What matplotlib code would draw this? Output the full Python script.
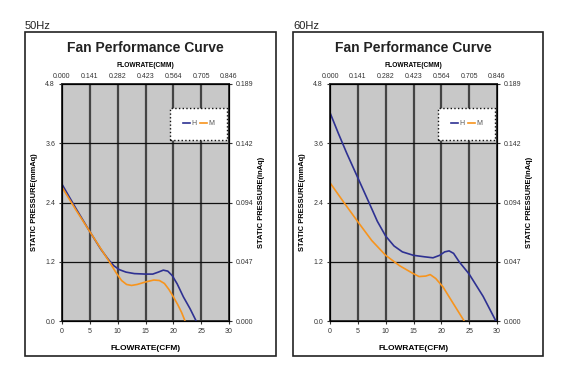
import matplotlib
matplotlib.use("Agg")
import matplotlib.pyplot as plt
from matplotlib.patches import Rectangle

plt.rcParams["font.family"] = ["Liberation Sans", "DejaVu Sans"]

W, H = 576, 367

# valeurs (CFM, mmAq)
h50_x = [0, 2.5, 5, 7, 8.3, 9.3, 10.3, 11.5, 13, 15, 16.3, 17.3, 18.2, 19, 19.8, 20.7, 21.8, 23, 24.1]
h50_y = [2.77, 2.28, 1.81, 1.45, 1.25, 1.12, 1.04, 0.99, 0.96, 0.95, 0.95, 0.99, 1.03, 1.01, 0.92, 0.75, 0.49, 0.25, 0.0]
m50_x = [0, 2.5, 5, 7, 8.5, 9.7, 10.7, 11.6, 12.5, 13.5, 15, 16.5, 17.5, 18.4, 19.2, 20, 20.8, 21.5, 22.1]
m50_y = [2.71, 2.25, 1.81, 1.46, 1.20, 0.98, 0.82, 0.74, 0.72, 0.74, 0.79, 0.83, 0.82, 0.76, 0.64, 0.49, 0.33, 0.17, 0.0]

h60_x = [0, 1.5, 3, 5, 7, 8.5, 10, 11.5, 13, 15, 17, 18.5, 19.7, 20.6, 21.4, 22.2, 23.2, 25, 27.5, 29.8]
h60_y = [4.22, 3.80, 3.40, 2.90, 2.40, 2.02, 1.72, 1.52, 1.40, 1.33, 1.30, 1.28, 1.33, 1.40, 1.42, 1.37, 1.20, 0.95, 0.50, 0.0]
m60_x = [0, 2.5, 5, 7.5, 10, 12.5, 14.8, 16, 17.2, 18, 19, 20.3, 22, 24.1]
m60_y = [2.80, 2.40, 2.01, 1.63, 1.33, 1.12, 0.97, 0.90, 0.91, 0.94, 0.86, 0.69, 0.38, 0.0]

cfm_ticks = [0, 5, 10, 15, 20, 25, 30]
cmm_labels = ["0.000", "0.141", "0.282", "0.423", "0.564", "0.705", "0.846"]
mm_ticks = [0.0, 1.2, 2.4, 3.6, 4.8]
in_labels = ["0.000", "0.047", "0.094", "0.142", "0.189"]

C_H = "#2e3192"
C_M = "#f7941d"
TICK_FS = 5


def fx(px):
    return px / W


def fy(py):
    return 1 - py / H


def draw_panel(fig, box_x0, box_x1, ax_x0, hz, hx, hy, mx, my):
    fig.add_artist(Rectangle((fx(box_x0), fy(356)), fx(box_x1 - box_x0), (356 - 32) / H,
                             transform=fig.transFigure, fill=False, lw=1.2, ec="#222222"))
    fig.text(fx(box_x0), fy(29), hz, fontsize=8, color="#222222")

    ax = fig.add_axes([fx(ax_x0), fy(321), fx(167), 237 / H])
    ax.set_facecolor("#c8c8c8")
    ax.set_xlim(0, 30)
    ax.set_ylim(0, 4.8)

    for x in cfm_ticks[1:-1]:
        ax.axvline(x, color="#444444", lw=1.6, zorder=1)
    for y in mm_ticks[1:-1]:
        ax.axhline(y, color="#111111", lw=0.9, zorder=1)

    ax.plot(hx, hy, color=C_H, lw=1.2, label="H", zorder=3)
    ax.plot(mx, my, color=C_M, lw=1.2, label="M", zorder=3)

    for s in ax.spines.values():
        s.set_color("#333333")
        s.set_linewidth(1.4)

    ax.set_xticks(cfm_ticks)
    ax.set_yticks(mm_ticks)
    ax.set_yticklabels([f"{v:.1f}" for v in mm_ticks])
    ax.tick_params(labelsize=TICK_FS, length=2, width=0.8, colors="#333333", pad=3)

    ax2 = ax.twinx()
    ax2.set_ylim(0, 4.8)
    ax2.set_yticks(mm_ticks)
    ax2.set_yticklabels(in_labels)
    ax2.tick_params(labelsize=TICK_FS, length=2, width=0.8, colors="#333333", pad=3)
    ax2.set_ylabel("STATIC PRESSURE(inAq)", fontsize=5.4, fontweight="bold", labelpad=3)

    ax3 = ax.twiny()
    ax3.set_xlim(0, 30)
    ax3.set_xticks(cfm_ticks)
    ax3.set_xticklabels(cmm_labels)
    ax3.tick_params(labelsize=TICK_FS, length=0, colors="#333333", pad=3)
    ax3.set_xlabel("FLOWRATE(CMM)", fontsize=4.8, fontweight="bold", labelpad=4)

    ax.set_xlabel("FLOWRATE(CFM)", fontsize=6, fontweight="bold", labelpad=7)
    ax.set_ylabel("STATIC PRESSURE(mmAq)", fontsize=5.4, fontweight="bold", labelpad=5)

    fig.text(fx(ax_x0 + 83), fy(52), "Fan Performance Curve", fontsize=10,
             fontweight="bold", ha="center", color="#222222")

    leg = ax.legend(loc="upper right", bbox_to_anchor=(0.99, 0.90), ncol=2,
                    fontsize=TICK_FS, frameon=True, fancybox=False,
                    handlelength=1.0, handletextpad=0.2, columnspacing=0.6,
                    borderpad=1.8, borderaxespad=0)
    fr = leg.get_frame()
    fr.set_linestyle(":")
    fr.set_edgecolor("#111111")
    fr.set_linewidth(1.0)
    fr.set_facecolor("white")
    fr.set_alpha(1)
    for t in leg.get_texts():
        t.set_color("#555555")
    return ax


fig = plt.figure(figsize=(W / 100, H / 100), dpi=100)
draw_panel(fig, 25, 276, 62, "50Hz", h50_x, h50_y, m50_x, m50_y)
draw_panel(fig, 293, 543, 330, "60Hz", h60_x, h60_y, m60_x, m60_y)

fig.savefig("out.png", dpi=100, facecolor="white")
